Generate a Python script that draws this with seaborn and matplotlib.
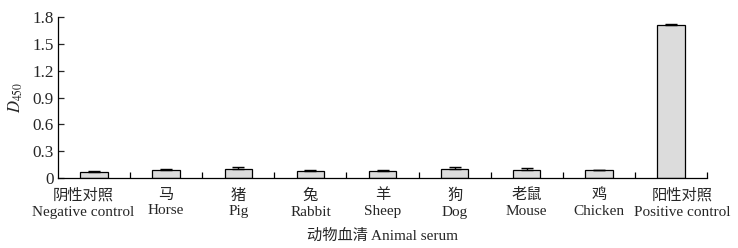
import numpy as np
import pandas as pd
import matplotlib
matplotlib.use("Agg")
import matplotlib.pyplot as plt
import matplotlib.transforms as mtransforms
import seaborn as sns
from matplotlib.ticker import FixedLocator, NullFormatter

# data
categories_cn = ['阴性对照', '马', '猪', '兔', '羊', '狗', '老鼠', '鸡', '阳性对照']
categories_en = ['Negative control', 'Horse', 'Pig', 'Rabbit', 'Sheep', 'Dog',
                 'Mouse', 'Chicken', 'Positive control']
d450 = [0.065, 0.09, 0.10, 0.075, 0.075, 0.10, 0.095, 0.085, 1.71]
d450_err = [0.01, 0.01, 0.025, 0.01, 0.01, 0.025, 0.012, 0.01, 0.01]
y_ticks = [0, 0.3, 0.6, 0.9, 1.2, 1.5, 1.8]
y_tick_labels = ['0', '0.3', '0.6', '0.9', '1.2', '1.5', '1.8']

sns.set_style('ticks')
plt.rcParams['font.family'] = ['Liberation Serif', 'Noto Sans CJK SC']
plt.rcParams['mathtext.fontset'] = 'stix'

labels = [cn + '\n' + en for cn, en in zip(categories_cn, categories_en)]
df = pd.DataFrame({'serum': labels, 'D450': d450, 'err': d450_err})

fig = plt.figure(figsize=(7.38, 2.48), dpi=100)
ax = fig.add_axes([0.0786, 0.282, 0.8795, 0.649])

sns.barplot(data=df, x='serum', y='D450', color='#dcdcdc', edgecolor='black',
            linewidth=0.9, width=0.38, saturation=1, errorbar=None, ax=ax)

# upper-only error bars
x = np.arange(len(d450))
ax.errorbar(x, df['D450'], yerr=[np.zeros(len(d450)), df['err']], fmt='none',
            ecolor='black', elinewidth=1.0, capsize=4.3, capthick=1.0, zorder=3)

ax.set_xlim(-0.5, len(d450) - 0.5)
ax.set_ylim(0, 1.8)
ax.set_yticks(y_ticks)
ax.set_yticklabels(y_tick_labels)

# ticks at category boundaries, pointing inward
ax.xaxis.set_minor_locator(FixedLocator(np.arange(0.5, len(d450), 1.0)))
ax.xaxis.set_minor_formatter(NullFormatter())
ax.tick_params(axis='x', which='major', length=0, pad=7.5, labelsize=11)
ax.tick_params(axis='x', which='minor', direction='in', length=4, width=0.9, color='black')
ax.tick_params(axis='y', direction='in', length=4, width=0.9, labelsize=12.3, pad=3)

xlabels = ax.get_xticklabels()
for t in xlabels:
    t.set_linespacing(1.28)
# the two long end labels sit a little off-centre in the reference
xlabels[0].set_transform(xlabels[0].get_transform() +
                         mtransforms.ScaledTranslation(-11 / 100, 0, fig.dpi_scale_trans))
xlabels[-1].set_transform(xlabels[-1].get_transform() +
                          mtransforms.ScaledTranslation(11 / 100, 0, fig.dpi_scale_trans))

sns.despine(ax=ax)
for s in ['left', 'bottom']:
    ax.spines[s].set_linewidth(0.9)
    ax.spines[s].set_color('black')

ax.set_xlabel('动物血清 Animal serum', fontsize=11, labelpad=7)
ax.set_ylabel(r'$D_{450}$', fontsize=12, labelpad=5)

fig.savefig('out.png', dpi=100)
